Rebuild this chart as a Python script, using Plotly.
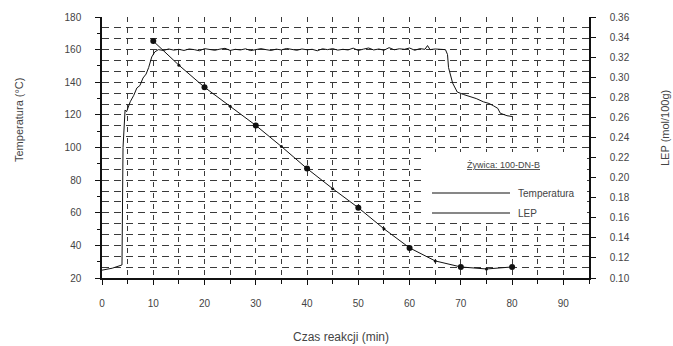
import plotly.graph_objects as go

# ---- data ----
temp_time = [0, 2, 3.9, 4.0, 4.1, 4.5, 4.8, 5.5, 6.2, 6.8, 7.4, 8.0, 8.6, 9.1, 9.7, 10.3, 11,
             12, 13, 14, 15, 16, 17, 18, 19, 20, 21, 22, 23, 24, 25, 26, 27, 28, 29, 30,
             31, 32, 33, 34, 35, 36, 37, 38, 39, 40, 41, 42, 43, 44, 45, 46, 47, 48, 49, 50,
             51, 52, 53, 54, 55, 56, 57, 58, 59, 60, 61, 62, 63, 63.5, 64, 65, 66, 67, 67.4,
             67.6, 68.4, 69.3, 70.5, 71.9, 73.0, 74.4, 75.5, 76.4, 77.2, 77.7, 79, 80]
temp_val = [24.8, 26, 28, 60, 100, 123, 122, 128, 132, 136.5, 138, 142.6, 145, 149, 155.5, 158.6, 160,
            159.5, 160.4, 159.7, 160.2, 159.5, 160.4, 160.0, 159.3, 160.6, 160.0, 159.6, 160.3, 160.8,
            159.5, 160.2, 159.8, 160.5, 159.4, 160.2, 160.6, 160.0, 159.5, 160.3, 159.8, 160.7, 160.1,
            159.6, 160.4, 159.9, 160.2, 159.3, 160.5, 160.0, 160.6, 159.7, 160.2, 159.8, 160.9, 159.5,
            160.3, 161.0, 159.8, 160.4, 159.6, 161.2, 159.9, 160.5, 160.2, 161.0, 159.6, 160.6, 160.2,
            162.5, 160.0, 160.4, 160.2, 160.0, 157,
            149, 139.5, 134, 132.5, 131, 130, 128, 127, 125.5, 124, 121, 119.5, 119]

lep_time = [10, 15, 20, 25, 30, 35, 40, 45, 50, 55, 60, 65, 70, 75, 80]
lep_val = [0.336, 0.312, 0.290, 0.271, 0.252, 0.231, 0.209, 0.189, 0.170, 0.149, 0.130, 0.117,
           0.111, 0.109, 0.111]

x_ticks = [0, 10, 20, 30, 40, 50, 60, 70, 80, 90]
temp_ticks = [20, 40, 60, 80, 100, 120, 140, 160, 180]
lep_ticks = [0.10, 0.12, 0.14, 0.16, 0.18, 0.20, 0.22, 0.24, 0.26, 0.28, 0.30, 0.32, 0.34, 0.36]

resin_label = "Żywica: 100-DN-B"
series_names = ["Temperatura", "LEP"]

# ---- figure ----
INK = "#111111"
GRID = "#3a3a3a"
TXT = "#444444"
FONT = "Liberation Sans, Arial, sans-serif"
HDASH = "7px,5px"
VDASH = "5px,6px"

fig = go.Figure()
fig.add_trace(go.Scatter(x=temp_time, y=temp_val, mode="lines", name=series_names[0],
                         line=dict(color=INK, width=1), yaxis="y"))
fig.add_trace(go.Scatter(x=lep_time, y=lep_val, mode="lines+markers", name=series_names[1],
                         line=dict(color=INK, width=1), marker=dict(color=INK, size=3),
                         yaxis="y2"))
big_t = [t for t in lep_time if t % 10 == 0]
big_v = [v for t, v in zip(lep_time, lep_val) if t % 10 == 0]
fig.add_trace(go.Scatter(x=big_t, y=big_v, mode="markers", marker=dict(color=INK, size=6),
                         yaxis="y2", showlegend=False))
# invisible trace to carry the horizontal grid axis
fig.add_trace(go.Scatter(x=[temp_time[0]], y=[temp_ticks[0]], mode="markers",
                         marker=dict(opacity=0), yaxis="y3", showlegend=False, hoverinfo="skip"))

L, R, T, B = 102, 84, 17, 68
W, H = 673, 346
pw, ph = W - L - R, H - T - B

def px(xp):
    return (xp - L) / pw

def py(yp):
    return (H - B - yp) / ph

axis_common = dict(showline=True, linecolor=INK, linewidth=1.5, zeroline=False,
                   ticks="outside", tickcolor=INK, ticklen=5, tickwidth=1,
                   tickfont=dict(family=FONT, size=10, color=TXT))

fig.update_layout(
    width=W, height=H, margin=dict(l=L, r=R, t=T, b=B),
    paper_bgcolor="white", plot_bgcolor="white", showlegend=False,
    xaxis=dict(range=[0, 95], tickvals=x_ticks, ticklabelstandoff=10,
               showgrid=True, gridcolor=GRID, gridwidth=1, griddash=VDASH,
               minor=dict(dtick=5, tick0=0, ticks="outside", ticklen=4, tickcolor=INK,
                          showgrid=True, gridcolor=GRID, griddash=VDASH, gridwidth=1),
               **axis_common),
    yaxis=dict(range=[20, 180], tickvals=temp_ticks, ticklabelstandoff=12, showgrid=False,
               minor=dict(dtick=10, tick0=20, ticks="outside", ticklen=3, tickcolor=INK,
                          showgrid=False),
               **axis_common),
    yaxis2=dict(range=[0.10, 0.36], tickvals=lep_ticks, tickformat=".2f", overlaying="y",
                side="right", ticklabelstandoff=12, showgrid=False, **axis_common),
    yaxis3=dict(range=[20, 180], dtick=20 / 3, tick0=20, overlaying="y", side="left",
                showgrid=True, gridcolor=GRID, gridwidth=1, griddash=HDASH,
                showticklabels=False, ticks="", showline=False, zeroline=False),
)

# legend box
fig.add_shape(type="rect", xref="paper", yref="paper", x0=px(425), x1=px(587), y0=py(222), y1=py(152),
              fillcolor="white", line=dict(width=0), layer="above")
fig.add_annotation(xref="paper", yref="paper", x=px(503), y=py(165), text="<u>" + resin_label + "</u>",
                   showarrow=False, font=dict(family=FONT, size=9, color=TXT), xanchor="center", yanchor="middle")
for name, yy in zip(series_names, [193, 213]):
    fig.add_shape(type="line", xref="paper", yref="paper", x0=px(432), x1=px(510), y0=py(yy), y1=py(yy),
                  line=dict(color=INK, width=1.2), layer="above")
    fig.add_annotation(xref="paper", yref="paper", x=px(516), y=py(yy), text=name, showarrow=False,
                       font=dict(family=FONT, size=10, color=TXT), xanchor="left", yanchor="middle")

# axis titles
fig.add_annotation(xref="paper", yref="paper", x=px(19), y=py(120), text="Temperatura (°C)", textangle=-90,
                   showarrow=False, font=dict(family=FONT, size=11, color=TXT), xanchor="center", yanchor="middle")
fig.add_annotation(xref="paper", yref="paper", x=px(665), y=py(128), text="LEP (mol/100g)", textangle=-90,
                   showarrow=False, font=dict(family=FONT, size=11, color=TXT), xanchor="center", yanchor="middle")
fig.add_annotation(xref="paper", yref="paper", x=px(341), y=py(337), text="Czas reakcji (min)",
                   showarrow=False, font=dict(family=FONT, size=12, color=TXT), xanchor="center", yanchor="middle")

fig.write_html("out.html")
